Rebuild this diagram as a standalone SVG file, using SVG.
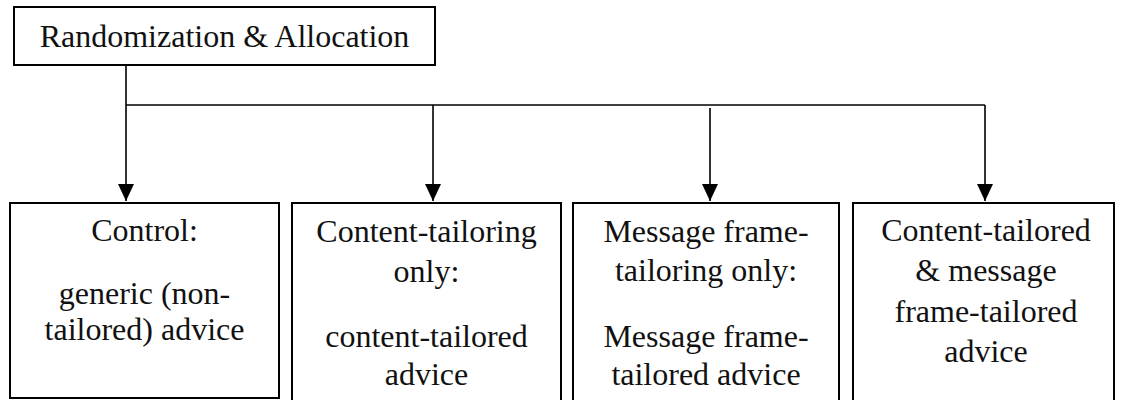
<svg xmlns="http://www.w3.org/2000/svg" width="1123" height="400" viewBox="0 0 1123 400">
  <defs>
    <marker id="arrow" markerUnits="userSpaceOnUse" markerWidth="18" markerHeight="16" refX="17" refY="8" orient="auto" viewBox="0 0 18 16">
      <path d="M0,0 L17,8 L0,16 Z" fill="#000"/>
    </marker>
    <style>
      .box { fill: #fff; stroke: #000; stroke-width: 2; }
      .lbl { font-family: "Liberation Serif", "Times New Roman", serif; font-size: 32px; fill: #111; text-anchor: middle; }
      .conn { stroke: #000; stroke-width: 1.6; fill: none; }
    </style>
  </defs>
  <rect width="1123" height="400" fill="#fff"/>

  <g id="connectors">
    <line class="conn" x1="126" y1="65" x2="126" y2="105"/>
    <line class="conn" x1="126" y1="105" x2="985" y2="105"/>
    <path class="conn" d="M126,105 V201" marker-end="url(#arrow)"/>
    <path class="conn" d="M433,105 V201" marker-end="url(#arrow)"/>
    <path class="conn" d="M710,108 V201" marker-end="url(#arrow)"/>
    <path class="conn" d="M985,105 V201" marker-end="url(#arrow)"/>
  </g>

  <g id="node-randomization">
    <rect class="box" x="14" y="7" width="421" height="58"/>
    <text class="lbl" x="224.5" y="47">Randomization &amp; Allocation</text>
  </g>

  <g id="node-control">
    <rect class="box" x="10" y="203" width="269" height="195"/>
    <text class="lbl" x="144.5" y="241">Control:</text>
    <text class="lbl" x="144.5" y="304">generic (non-</text>
    <text class="lbl" x="144.5" y="340">tailored) advice</text>
  </g>

  <g id="node-content">
    <rect class="box" x="292" y="203" width="269" height="205"/>
    <text class="lbl" x="426.5" y="242">Content-tailoring</text>
    <text class="lbl" x="426.5" y="282">only:</text>
    <text class="lbl" x="426.5" y="347">content-tailored</text>
    <text class="lbl" x="426.5" y="385">advice</text>
  </g>

  <g id="node-frame">
    <rect class="box" x="573" y="203" width="266" height="205"/>
    <text class="lbl" x="706" y="242">Message frame-</text>
    <text class="lbl" x="706" y="281">tailoring only:</text>
    <text class="lbl" x="706" y="347">Message frame-</text>
    <text class="lbl" x="706" y="385">tailored advice</text>
  </g>

  <g id="node-both">
    <rect class="box" x="853" y="203" width="261" height="205"/>
    <text class="lbl" x="986" y="241">Content-tailored</text>
    <text class="lbl" x="986" y="281">&amp; message</text>
    <text class="lbl" x="986" y="322">frame-tailored</text>
    <text class="lbl" x="986" y="362">advice</text>
  </g>
</svg>
